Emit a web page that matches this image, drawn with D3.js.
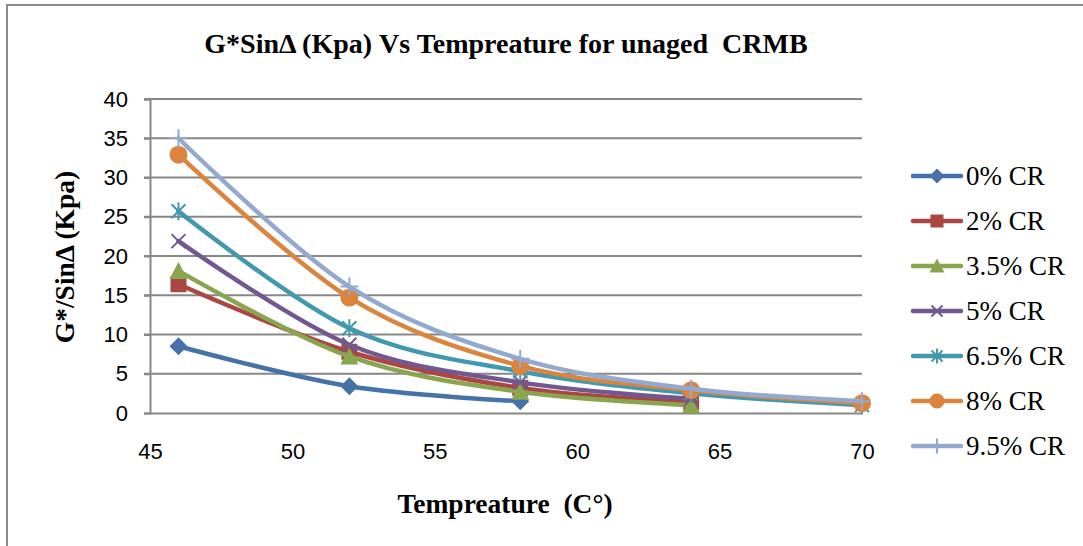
<!DOCTYPE html>
<html>
<head>
<meta charset="utf-8">
<script src="https://cdn.jsdelivr.net/npm/d3@7"></script>
<style>
  body { margin: 0; background: #fff; }
  svg { display: block; }
</style>
</head>
<body>
<svg id="chart" width="1083" height="546"></svg>
<script>
// data
const temps = [46, 52, 58, 64, 70];
const xTicks = [45, 50, 55, 60, 65, 70];
const yTicks = [0, 5, 10, 15, 20, 25, 30, 35, 40];
const seriesNames = ["0% CR", "2% CR", "3.5% CR", "5% CR", "6.5% CR", "8% CR", "9.5% CR"];
const cr0  = [8.5, 3.4, 1.5, null, null];
const cr2  = [16.4, 7.8, 3.2, 1.4, null];
const cr35 = [18.1, 7.2, 2.7, 1.0, null];
const cr5  = [21.9, 8.7, 3.9, 1.8, null];
const cr65 = [25.7, 10.8, 5.3, 2.5, 1.0];
const cr8  = [32.9, 14.7, 6.0, 2.9, 1.25];
const cr95 = [35.0, 16.1, 6.9, 3.1, 1.5];
const allValues = [cr0, cr2, cr35, cr5, cr65, cr8, cr95];

const colors = ["#4572A7", "#AA4643", "#89A54E", "#71588F", "#4198AF", "#DB843D", "#93A9CF"];
const markers = ["diamond", "square", "triangle", "x", "star", "circle", "plus"];

const svg = d3.select("#chart");

// outer chart frame (only left and top edges show)
svg.append("path")
  .attr("d", "M7,546 L7,5 L1083,5")
  .attr("fill", "none")
  .attr("stroke", "#8a8a8a")
  .attr("stroke-width", 2);

const plotL = 150, plotR = 862, plotT = 99, plotB = 413;

const x = d3.scaleLinear().domain([45, 70]).range([plotL, plotR]);
const y = d3.scaleLinear().domain([0, 40]).range([plotB, plotT]);

// gridlines
svg.append("g")
  .selectAll("line")
  .data(yTicks.filter(d => d > 0))
  .enter()
  .append("line")
  .attr("x1", plotL - 6)
  .attr("x2", plotR)
  .attr("y1", d => y(d))
  .attr("y2", d => y(d))
  .attr("stroke", "#878787")
  .attr("stroke-width", 2);

// y axis
let yAxis = svg.append("g")
  .attr("transform", "translate(" + plotL + ",0)")
  .call(d3.axisLeft(y).tickValues(yTicks).tickSize(6).tickPadding(16));
yAxis.select(".domain").attr("stroke", "#878787").attr("stroke-width", 2);
yAxis.selectAll(".tick line").attr("stroke", "#878787").attr("stroke-width", 2);
yAxis.selectAll("text")
  .attr("font-family", "Liberation Sans, Arial, sans-serif")
  .attr("font-size", 22)
  .attr("fill", "#000");

// x axis
let xAxis = svg.append("g")
  .attr("transform", "translate(0," + plotB + ")")
  .call(d3.axisBottom(x).tickValues(xTicks).tickSize(0).tickPadding(30));
xAxis.select(".domain").attr("stroke", "#878787").attr("stroke-width", 2);
xAxis.selectAll("text")
  .attr("font-family", "Liberation Sans, Arial, sans-serif")
  .attr("font-size", 22)
  .attr("fill", "#000");

// titles
svg.append("text")
  .attr("x", 506).attr("y", 53)
  .attr("text-anchor", "middle")
  .attr("font-family", "Liberation Serif, Times New Roman, serif")
  .attr("font-weight", "bold")
  .attr("font-size", 28)
  .style("white-space", "pre")
  .text("G*Sin\u0394 (Kpa) Vs Tempreature for unaged  CRMB");

svg.append("text")
  .attr("x", 505).attr("y", 513)
  .attr("text-anchor", "middle")
  .attr("font-family", "Liberation Serif, Times New Roman, serif")
  .attr("font-weight", "bold")
  .attr("font-size", 27.5)
  .style("white-space", "pre")
  .text("Tempreature  (C\u00B0)");

svg.append("text")
  .attr("transform", "translate(74,257) rotate(-90)")
  .attr("text-anchor", "middle")
  .attr("font-family", "Liberation Serif, Times New Roman, serif")
  .attr("font-weight", "bold")
  .attr("font-size", 27.5)
  .text("G*/Sin\u0394 (Kpa)");

// marker drawing
function drawMarker(g, type, color, s) {
  const h = s / 2;
  if (type === "diamond") {
    g.append("path").attr("d", `M0,${-h}L${h},0L0,${h}L${-h},0Z`).attr("fill", color);
  } else if (type === "square") {
    g.append("rect").attr("x", -h + 1).attr("y", -h + 1).attr("width", s - 2).attr("height", s - 2).attr("fill", color);
  } else if (type === "triangle") {
    g.append("path").attr("d", `M0,${-h}L${h},${h - 1}L${-h},${h - 1}Z`).attr("fill", color);
  } else if (type === "circle") {
    g.append("circle").attr("r", h).attr("fill", color);
  } else if (type === "x") {
    g.append("path").attr("d", `M${-h + 2},${-h + 2}L${h - 2},${h - 2}M${-h + 2},${h - 2}L${h - 2},${-h + 2}`)
      .attr("stroke", color).attr("stroke-width", 2).attr("fill", "none");
  } else if (type === "star") {
    g.append("path").attr("d", `M${-h + 2},${-h + 2}L${h - 2},${h - 2}M${-h + 2},${h - 2}L${h - 2},${-h + 2}M0,${-h}L0,${h}`)
      .attr("stroke", color).attr("stroke-width", 2).attr("fill", "none");
  } else if (type === "plus") {
    g.append("path").attr("d", `M0,${-h}L0,${h}M${-h},0L${h},0`)
      .attr("stroke", color).attr("stroke-width", 2).attr("fill", "none");
  }
}

const line = d3.line()
  .defined(d => d.v !== null)
  .x(d => x(d.t))
  .y(d => y(d.v))
  .curve(d3.curveCatmullRom.alpha(0));

allValues.forEach(function(vals, i) {
  const pts = temps.map((t, j) => ({ t: t, v: vals[j] }));
  const g = svg.append("g");
  g.append("path")
    .datum(pts)
    .attr("d", line)
    .attr("fill", "none")
    .attr("stroke", colors[i])
    .attr("stroke-width", 4.5)
    .attr("stroke-linejoin", "round")
    .attr("stroke-linecap", "round");
  pts.filter(d => d.v !== null).forEach(function(d) {
    const m = g.append("g").attr("transform", "translate(" + x(d.t) + "," + y(d.v) + ")");
    drawMarker(m, markers[i], colors[i], 18);
  });
});

// legend
const legend = svg.append("g");
seriesNames.forEach(function(name, i) {
  const ly = 176 + i * 45;
  const g = legend.append("g").attr("transform", "translate(0," + ly + ")");
  g.append("line")
    .attr("x1", 913).attr("x2", 961)
    .attr("y1", 0).attr("y2", 0)
    .attr("stroke", colors[i])
    .attr("stroke-width", 4.5)
    .attr("stroke-linecap", "round");
  const m = g.append("g").attr("transform", "translate(937,0)");
  drawMarker(m, markers[i], colors[i], 15);
  g.append("text")
    .attr("x", 966).attr("y", 9)
    .attr("font-family", "Liberation Serif, Times New Roman, serif")
    .attr("font-size", 27)
    .attr("fill", "#000")
    .text(name);
});
</script>
</body>
</html>
